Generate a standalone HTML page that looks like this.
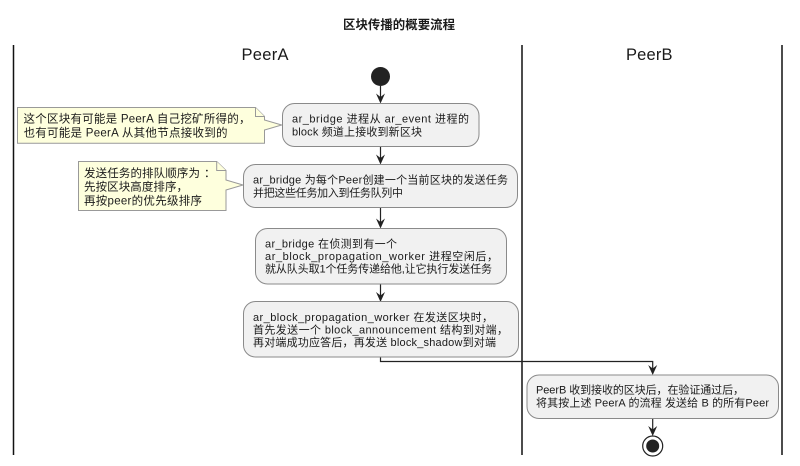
<!DOCTYPE html>
<html>
<head>
<meta charset="utf-8">
<style>
html,body{margin:0;padding:0;background:#fff;width:800px;height:466px;overflow:hidden}
svg{display:block;filter:blur(0.25px)}
text{font-family:"Liberation Sans","Noto Sans CJK SC",sans-serif;fill:#1a1a1a;font-size:11px}
.n{font-size:11.5px}
.b{fill:#f1f1f1;stroke:#8a8a8a;stroke-width:1}
.note{fill:#feffdd;stroke:#999;stroke-width:1}
.l{stroke:#222;stroke-width:1.2;fill:none}
.s{stroke:#111;stroke-width:1.5;fill:none}
.h{fill:#222;stroke:none}
</style>
</head>
<body>
<svg width="800" height="466" viewBox="0 0 800 466" xmlns="http://www.w3.org/2000/svg">
<text x="343" y="29" style="font-size:12.4px;font-weight:bold" textLength="112" lengthAdjust="spacing">区块传播的概要流程</text>

<line class="s" x1="13.5" y1="45" x2="13.5" y2="455"/>
<line class="s" x1="522" y1="45" x2="522" y2="455"/>
<line class="s" x1="782" y1="45" x2="782" y2="455"/>

<text x="241.5" y="60" style="font-size:16.5px" textLength="47" lengthAdjust="spacing">PeerA</text>
<text x="626" y="60" style="font-size:16.5px" textLength="46.5" lengthAdjust="spacing">PeerB</text>

<circle cx="380.5" cy="76.5" r="9.5" fill="#222"/>

<line class="l" x1="380.5" y1="86" x2="380.5" y2="100"/>
<polygon class="h" points="380.5,103.5 376,93.5 380.5,97 385,93.5"/>
<line class="l" x1="380.5" y1="146" x2="380.5" y2="161"/>
<polygon class="h" points="380.5,164.5 376,154.5 380.5,158 385,154.5"/>
<line class="l" x1="380.5" y1="207" x2="380.5" y2="225"/>
<polygon class="h" points="380.5,228.5 376,218.5 380.5,222 385,218.5"/>
<line class="l" x1="380.5" y1="284" x2="380.5" y2="298"/>
<polygon class="h" points="380.5,302 376,292 380.5,295.5 385,292"/>
<polyline class="l" points="380.5,357 380.5,361.5 652.7,361.5 652.7,372"/>
<polygon class="h" points="652.7,375 648.2,365 652.7,368.5 657.2,365"/>
<line class="l" x1="652.7" y1="418" x2="652.7" y2="432"/>
<polygon class="h" points="652.7,436 648.2,426 652.7,429.5 657.2,426"/>

<polygon class="note" points="17.5,107.5 255.5,107.5 264.5,116.5 264.5,120 281.7,125 264.5,130 264.5,143.3 17.5,143.3"/>
<polyline class="note" points="255.5,107.5 255.5,116.5 264.5,116.5"/>
<text class="n" x="23.5" y="122.5" textLength="227" lengthAdjust="spacing">这个区块有可能是 PeerA 自己挖矿所得的，</text>
<text class="n" x="23.5" y="136.5" textLength="204" lengthAdjust="spacing">也有可能是 PeerA 从其他节点接收到的</text>

<polygon class="note" points="78.5,161.5 216.7,161.5 226,170.5 226,180 243,185 226,190 226,210.5 78.5,210.5"/>
<polyline class="note" points="216.7,161.5 216.7,170.5 226,170.5"/>
<text class="n" x="84" y="177" textLength="116" lengthAdjust="spacing">发送任务的排队顺序为</text>
<text class="n" x="204" y="177">：</text>
<text class="n" x="84" y="190.5" textLength="104" lengthAdjust="spacing">先按区块高度排序，</text>
<text class="n" x="84" y="204.5" textLength="118" lengthAdjust="spacing">再按peer的优先级排序</text>

<rect class="b" x="282.5" y="103.5" width="196.5" height="43" rx="12" ry="12"/>
<text x="292" y="122.5" textLength="177" lengthAdjust="spacing">ar_bridge 进程从 ar_event 进程的</text>
<text x="292" y="135.5" textLength="130" lengthAdjust="spacing">block 频道上接收到新区块</text>

<rect class="b" x="243.5" y="164.5" width="274" height="43" rx="12" ry="12"/>
<text x="253" y="183.5" textLength="255" lengthAdjust="spacing">ar_bridge 为每个Peer创建一个当前区块的发送任务</text>
<text x="253" y="196.5" textLength="150" lengthAdjust="spacing">并把这些任务加入到任务队列中</text>

<rect class="b" x="255.5" y="228.5" width="251" height="55.5" rx="12" ry="12"/>
<text x="265" y="247.5" textLength="132" lengthAdjust="spacing">ar_bridge 在侦测到有一个</text>
<text x="265" y="260" textLength="233" lengthAdjust="spacing">ar_block_propagation_worker 进程空闲后，</text>
<text x="265" y="272.5" textLength="227" lengthAdjust="spacing">就从队头取1个任务传递给他,让它执行发送任务</text>

<rect class="b" x="243.5" y="301.5" width="275" height="55.5" rx="12" ry="12"/>
<text x="253" y="321" textLength="240" lengthAdjust="spacing">ar_block_propagation_worker 在发送区块时，</text>
<text x="253" y="333.5" textLength="255" lengthAdjust="spacing">首先发送一个 block_announcement 结构到对端，</text>
<text x="253" y="346" textLength="243" lengthAdjust="spacing">再对端成功应答后，再发送 block_shadow到对端</text>

<rect class="b" x="527" y="375" width="251.5" height="43.5" rx="12" ry="12"/>
<text x="536" y="393.5" textLength="208" lengthAdjust="spacing">PeerB 收到接收的区块后，在验证通过后，</text>
<text x="536" y="406.5" textLength="233" lengthAdjust="spacing">将其按上述 PeerA 的流程 发送给 B 的所有Peer</text>

<circle cx="652.7" cy="446" r="10" fill="#fff" stroke="#222" stroke-width="1.2"/>
<circle cx="652.7" cy="446" r="6.5" fill="#222"/>
</svg>
</body>
</html>
